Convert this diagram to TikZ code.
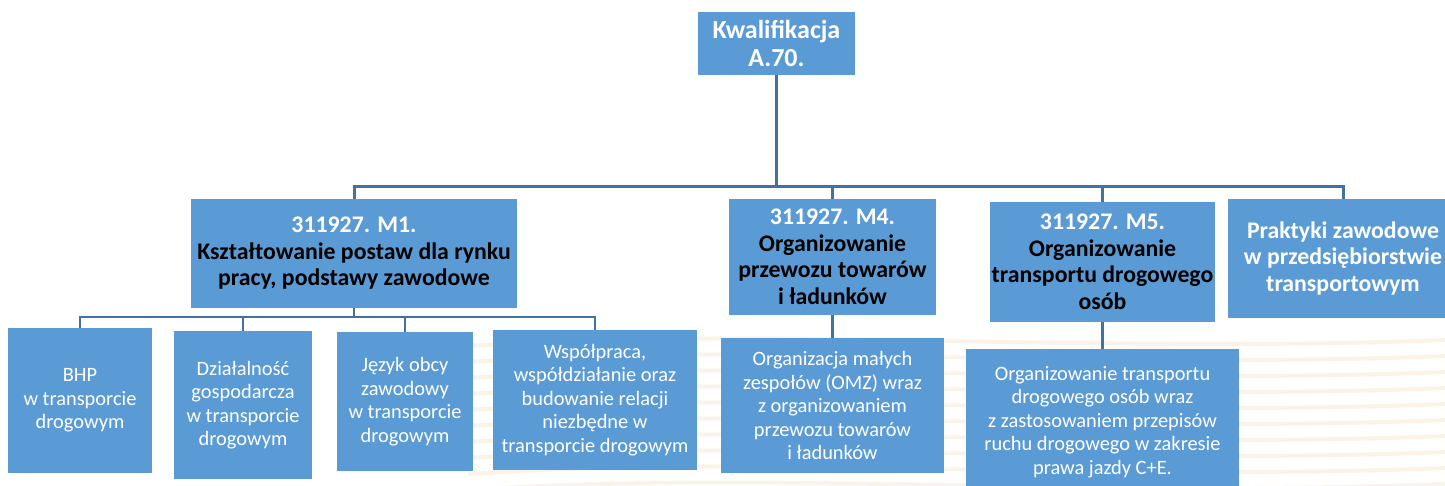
\documentclass[tikz,border=0pt]{standalone}
\usepackage{fontspec}
\setmainfont{Carlito}
\definecolor{boxblue}{RGB}{91,155,213}
\definecolor{linkblue}{RGB}{68,114,160}
\definecolor{sand}{RGB}{251,243,232}
\begin{document}
\begin{tikzpicture}[x=1pt,y=-1pt,
		box/.style={fill=boxblue,inner sep=0pt,align=center,text=white},
		head/.style={box,font=\bfseries\fontsize{23.8}{26.5}\selectfont},
		leaf/.style={box,font=\fontsize{20.4}{23.5}\selectfont},
		link/.style={draw=linkblue,line width=3pt},
		wave/.style={draw=sand,line width=4pt,line cap=round}]
	\useasboundingbox (0,0) rectangle (1445,486);
	\fill[white] (0,0) rectangle (1445,486);
	
	% faint background streaks
	\foreach \yy in {340,356,...,486}
		\draw[wave] (470,\yy+6) .. controls (760,{\yy-14}) and (1080,{\yy+14}) .. (1445,\yy);
	
	% top level
	\node[head,minimum width=157pt,minimum height=63pt,font=\bfseries\fontsize{26}{28}\selectfont] (kwal) at (776.5,43.5) {Kwalifikacja\\A.70.};
	
	% modules
	\node[head,minimum width=326pt,minimum height=109pt] (m1) at (354,253.5)
		{311927. M1.\\\textcolor{black}{Kształtowanie postaw dla rynku}\\\textcolor{black}{pracy, podstawy zawodowe}};
	\node[head,minimum width=207pt,minimum height=116pt] (m4) at (832.5,257)
		{311927. M4.\\\textcolor{black}{Organizowanie}\\\textcolor{black}{przewozu towarów}\\\textcolor{black}{i ładunków}};
	\node[head,minimum width=225pt,minimum height=120pt] (m5) at (1102.5,262)
		{311927. M5.\\\textcolor{black}{Organizowanie}\\\textcolor{black}{transportu drogowego}\\\textcolor{black}{osób}};
	\node[head,minimum width=230pt,minimum height=119pt] (prak) at (1343,258.5)
		{Praktyki zawodowe\\w przedsiębiorstwie\\transportowym};
	
	% subjects
	\node[leaf,minimum width=144pt,minimum height=145pt] (bhp) at (80,400.5)
		{BHP\\w transporcie\\drogowym};
	\node[leaf,minimum width=138pt,minimum height=148pt] (dzial) at (243,405)
		{Działalność\\gospodarcza\\w transporcie\\drogowym};
	\node[leaf,minimum width=136pt,minimum height=139pt] (jezyk) at (405,401.5)
		{Język obcy\\zawodowy\\w transporcie\\drogowym};
	\node[leaf,minimum width=204pt,minimum height=140pt] (wspol) at (595,400)
		{Współpraca,\\współdziałanie oraz\\budowanie relacji\\niezbędne w\\transporcie drogowym};
	\node[leaf,minimum width=223pt,minimum height=135pt] (omz) at (832.5,405.5)
		{Organizacja małych\\zespołów (OMZ) wraz\\z organizowaniem\\przewozu towarów\\i ładunków};
	\node[leaf,minimum width=273pt,minimum height=146pt] (osob) at (1102.5,422)
		{Organizowanie transportu\\drogowego osób wraz\\z zastosowaniem przepisów\\ruchu drogowego w zakresie\\prawa jazdy C+E.};
	
	% connectors
	\foreach \n in {m1,m4,m5,prak}
		\draw[link] (kwal.south) -- (kwal.south |- 0,187) -| (\n.north);
	\foreach \n in {bhp,dzial,jezyk,wspol}
		\draw[link,line width=2.6pt] (m1.south) -- (m1.south |- 0,317) -| (\n.north);
	\draw[link,line width=2.6pt] (m4.south) -- (omz.north);
	\draw[link,line width=2.6pt] (m5.south) -- (osob.north);
\end{tikzpicture}
\end{document}
